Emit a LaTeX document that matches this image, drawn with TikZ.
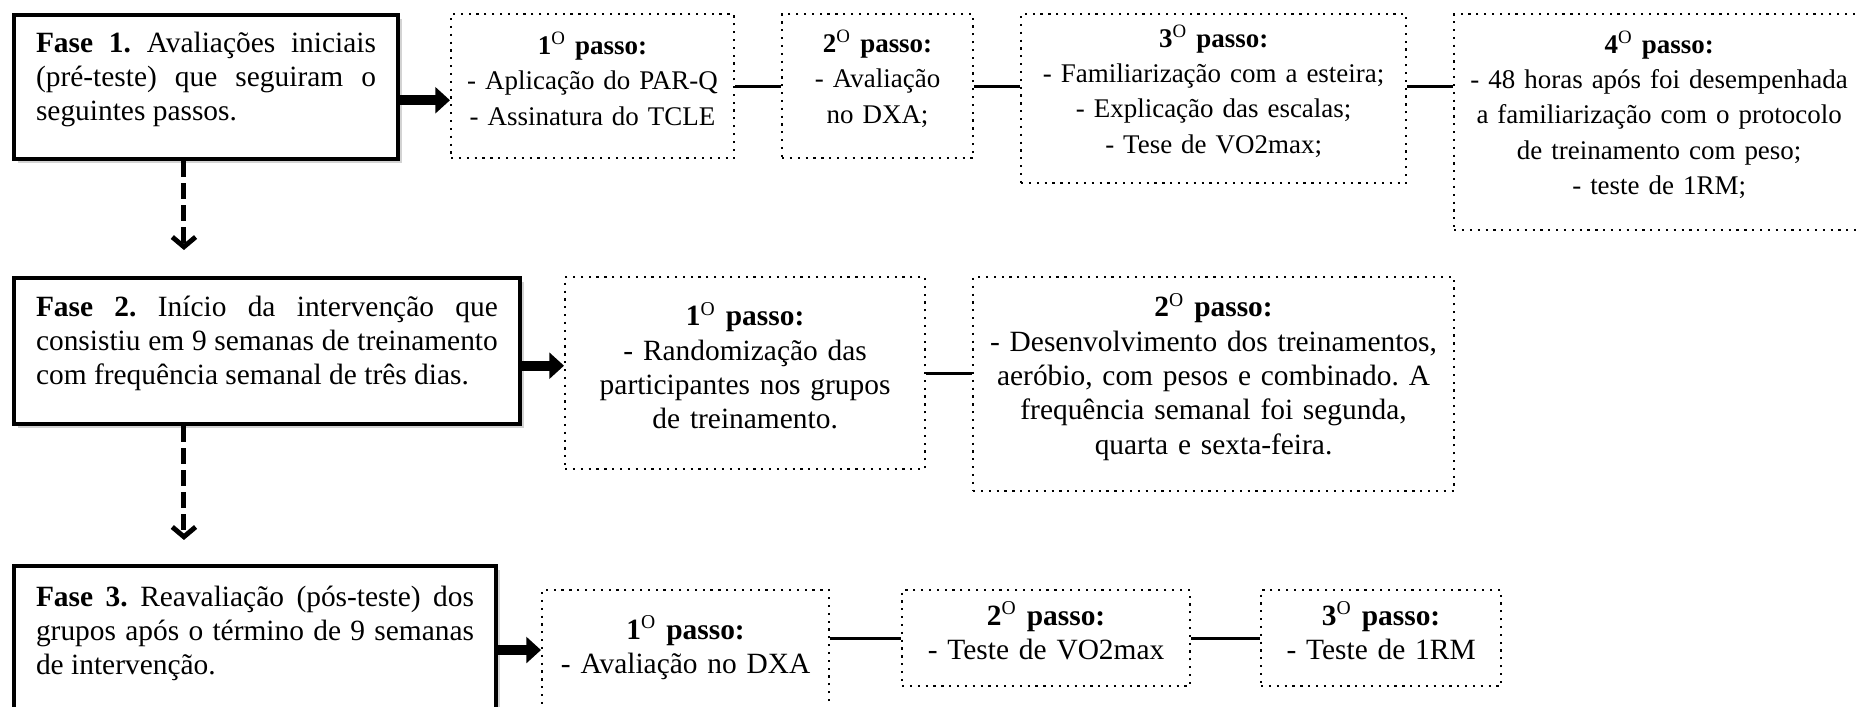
\documentclass[tikz,border=0pt]{standalone}
\usepackage{fontspec}
\setmainfont{Liberation Serif}
\usetikzlibrary{arrows.meta,shadows}
\tolerance=10000
\hyphenpenalty=10000
\frenchspacing
\newcommand{\npasso}[1]{\textbf{#1\textsuperscript{\mdseries O} passo:}}

\begin{document}
\begin{tikzpicture}[x=0.408pt,y=-0.408pt,
    fase/.style={draw,line width=1.6pt,fill=white,anchor=north west,align=justify,inner xsep=8pt,
        font=\fontsize{12}{13.9}\selectfont,
        drop shadow={shadow xshift=1.8pt,shadow yshift=-1.8pt,opacity=.35},
        execute at end node={\endgraf\kern6pt}},
    passo/.style={draw,line width=.9pt,dash pattern=on .9pt off 2.3pt,anchor=north west,align=center,
        inner xsep=4pt,font=\fontsize{12}{14}\selectfont,execute at end node={\endgraf\kern6pt}},
    small/.style={font=\fontsize{11}{14.4}\selectfont},
    seta/.style={line width=4pt,-{Triangle[length=6pt,width=10.5pt]}},
    tracos/.style={line width=2pt,dash pattern=on 6.5pt off 2.5pt,-{Straight Barb[length=4pt,width=9.5pt]}},
    liga/.style={line width=1.2pt,preaction={draw,black!18,line width=2pt,transform canvas={yshift=-1.6pt}}}]

    \useasboundingbox (0,0) rectangle (1860,707);

    % fases
    \node[fase,text width=138.7pt,minimum width=156.7pt,minimum height=58.8pt] (f1) at (12,13)
        {\textbf{Fase 1.} Avaliações iniciais\linebreak (pré-teste) que seguiram o\linebreak seguintes passos.};
    \node[fase,text width=188.4pt,minimum width=206.4pt,minimum height=59.6pt] (f2) at (12,276)
        {\textbf{Fase 2.} Início da intervenção que\linebreak consistiu em 9 semanas de treinamento\linebreak com frequência semanal de três dias.};
    \node[fase,text width=178.7pt,minimum width=196.7pt,minimum height=61.2pt] (f3) at (12,564)
        {\textbf{Fase 3.} Reavaliação (pós-teste) dos\linebreak grupos após o término de 9 semanas\linebreak de intervenção.};

    % passos da fase 1
    \node[passo,small,text width=107.4pt,minimum width=115.4pt,minimum height=58.8pt] (p11) at (450,13)
        {\npasso{1}\\- Aplicação do PAR-Q\\- Assinatura do TCLE};
    \node[passo,small,text width=69.9pt,minimum width=77.9pt,minimum height=58.8pt] (p12) at (781,13)
        {\npasso{2}\\- Avaliação\\no DXA;};
    \node[passo,small,text width=149.1pt,minimum width=157.1pt,minimum height=69pt] (p13) at (1020,13)
        {\npasso{3}\\- Familiarização com a esteira;\\- Explicação das escalas;\\- Tese de VO2max;};
    \node[passo,small,text width=159.3pt,minimum width=167.3pt,minimum height=88.1pt] (p14) at (1453,13)
        {\npasso{4}\\- 48 horas após foi desempenhada\\a familiarização com o protocolo\\de treinamento com peso;\\- teste de 1RM;};

    % passos da fase 2
    \node[passo,text width=138.9pt,minimum width=146.9pt,minimum height=78.3pt] (p21) at (564,276)
        {\npasso{1}\\- Randomização das\\participantes nos grupos\\de treinamento.};
    \node[passo,text width=188.2pt,minimum width=196.2pt,minimum height=87.3pt] (p22) at (972,276)
        {\npasso{2}\\- Desenvolvimento dos treinamentos,\\aeróbio, com pesos e combinado. A\\frequência semanal foi segunda,\\quarta e sexta-feira.};

    % passos da fase 3
    \node[passo,text width=109.1pt,minimum width=117.1pt,minimum height=53pt] (p31) at (541,589)
        {\npasso{1}\\- Avaliação no DXA};
    \node[passo,text width=109.5pt,minimum width=117.5pt,minimum height=39.2pt] (p32) at (901,589)
        {\npasso{2}\\- Teste de VO2max};
    \node[passo,text width=89.9pt,minimum width=97.9pt,minimum height=39.2pt] (p33) at (1260,589)
        {\npasso{3}\\- Teste de 1RM};

    \coordinate (d1) at ([xshift=-9pt]f1.south);

    \draw[seta] ([yshift=-5.4pt]f1.east) -- ([yshift=-5.4pt]f1.east -| p11.west);
    \draw[seta] ([yshift=-6pt]f2.east) -- ([yshift=-6pt]f2.east -| p21.west);
    \draw[seta] ([yshift=-3.7pt]f3.east) -- ([yshift=-3.7pt]f3.east -| p31.west);

    \draw[tracos,shorten >=10.6pt] (d1) -- (d1 |- f2.north);
    \draw[tracos,shorten >=9.8pt] (f2.south -| d1) -- (f3.north -| d1);

    \path[liga]
        (p11.east) edge (p12.west)
        (p12.east) edge (p12.east -| p13.west)
        (p12.east -| p13.east) edge (p12.east -| p14.west)
        (p21.east) edge (p21.east -| p22.west)
        (p32.west -| p31.east) edge (p32.west)
        (p32.east) edge (p33.west)
    ;
\end{tikzpicture}
\end{document}
